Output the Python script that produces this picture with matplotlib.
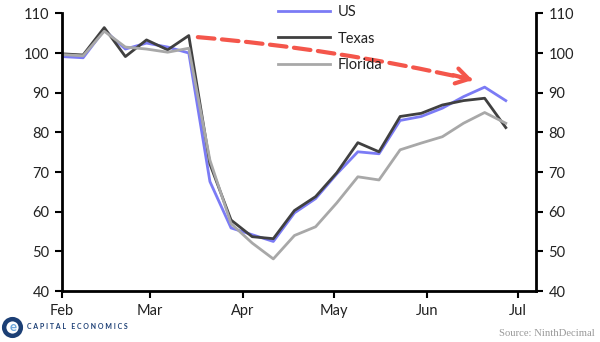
import matplotlib.pyplot as plt
import matplotlib.dates as mdates
import pandas as pd

# weekly index values, 1 Feb 2020 onwards
weeks = pd.date_range("2020-02-01", periods=22, freq="7D")
us = [99.1, 98.8, 105.8, 101.0, 102.5, 101.5, 100.0, 67.6, 55.9, 54.2, 52.5,
      59.7, 63.3, 69.5, 75.1, 74.6, 83.0, 84.0, 86.1, 89.0, 91.4, 88.0]
texas = [99.8, 99.5, 106.4, 99.1, 103.3, 100.8, 104.4, 72.0, 57.9, 53.7, 53.2,
         60.3, 63.8, 69.8, 77.4, 75.1, 84.0, 84.8, 86.9, 88.0, 88.6, 81.2]
florida = [99.6, 99.3, 105.5, 101.5, 101.0, 100.2, 101.2, 73.0, 57.0, 52.1, 48.1,
           54.0, 56.2, 62.2, 68.8, 68.0, 75.6, 77.3, 78.9, 82.3, 85.0, 82.3]
month_ticks = pd.date_range("2020-02-01", periods=6, freq="MS")
month_labels = ["Feb", "Mar", "Apr", "May", "Jun", "Jul"]

plt.rcParams["font.family"] = ["Lato", "DejaVu Sans"]

fig = plt.figure(figsize=(6, 3.42), dpi=100)
ax = fig.add_axes([0.1033, 0.149, 0.79, 0.812])

ax.plot(weeks, us, color="#7b7bf5", lw=2, label="US")
ax.plot(weeks, texas, color="#404040", lw=2, label="Texas")
ax.plot(weeks, florida, color="#a8a8a8", lw=2, label="Florida")

ax.set_xlim(pd.Timestamp("2020-02-01"), pd.Timestamp("2020-07-07"))
ax.set_ylim(40, 110)
ax.set_yticks(range(40, 111, 10))
ax.set_xticks(month_ticks)
ax.set_xticklabels(month_labels)

for side in ["left", "right", "bottom"]:
    ax.spines[side].set_linewidth(2)
ax.spines["top"].set_visible(False)
ax.tick_params(axis="both", direction="out", length=5, width=1.5,
               labelsize=10.5, colors="black", labelcolor="#222222", pad=4)
ax.tick_params(axis="y", right=True, labelright=True)

# red dashed arrow
start = (mdates.date2num(pd.Timestamp("2020-03-17")), 104.0)
end = (mdates.date2num(pd.Timestamp("2020-06-16")), 93.2)
ax.annotate("", xy=end, xytext=start,
            arrowprops=dict(arrowstyle="-", color="#f4564b", lw=3,
                            linestyle=(0, (4, 1.8)),
                            connectionstyle="arc3,rad=-0.035",
                            shrinkA=0, shrinkB=2))
ax.annotate("", xy=end, xytext=(-14, 3.5), textcoords="offset points",
            arrowprops=dict(arrowstyle="->,head_length=0.9,head_width=0.55",
                            color="#f4564b", lw=3, shrinkA=0, shrinkB=0))

leg = fig.legend(loc="upper left", bbox_to_anchor=(0.463, 0.985),
                 frameon=False, fontsize=10.5, handlelength=3.6,
                 handletextpad=0.5, labelspacing=0.85, borderpad=0,
                 borderaxespad=0)
for t in leg.get_texts():
    t.set_color("#222222")

# footer
fig.add_artist(plt.Line2D([0.02], [0.045], marker="o", ms=12, mfc="none",
                          mec="#1c3f75", mew=3.2, transform=fig.transFigure))
fig.text(0.022, 0.045, "e", color="#6fa8dc", fontsize=9.5, fontweight="bold",
         ha="center", va="center")
fig.text(0.045, 0.045, "C A P I T A L   E C O N O M I C S", color="#1c3f75",
         fontsize=5, fontweight="bold", va="center")
fig.text(0.992, 0.026, "Source: NinthDecimal", color="#999999", fontsize=7.7,
         ha="right", va="center", family=["Liberation Serif", "DejaVu Serif"])

fig.savefig("out.png", dpi=100)
